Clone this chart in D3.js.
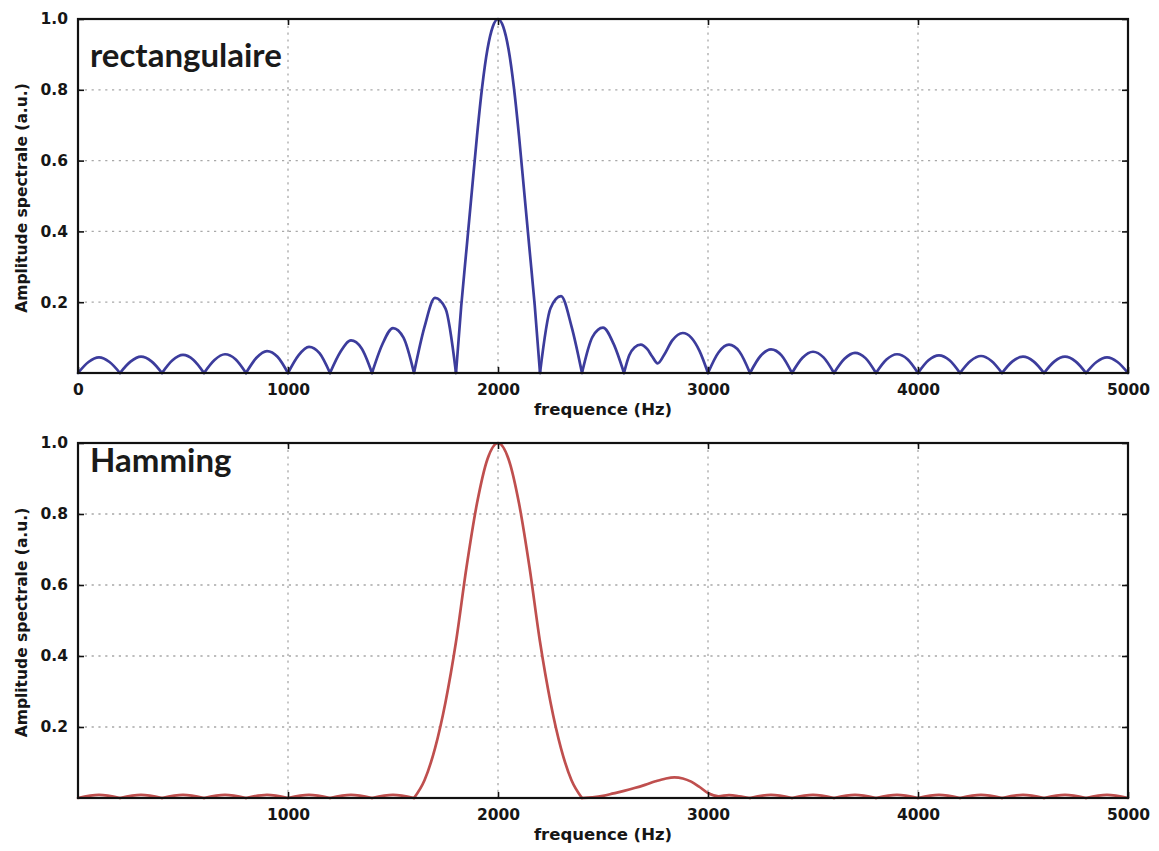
<!DOCTYPE html>
<html>
<head>
<meta charset="utf-8">
<script src="https://cdn.jsdelivr.net/npm/d3@7"></script>
<style>
  html, body { margin: 0; padding: 0; background: #fff; }
  svg { display: block; }
</style>
</head>
<body>
<svg id="chart" width="1159" height="851"></svg>
<script>
// ---- Data ---------------------------------------------------------------
const xTickValues = [0, 1000, 2000, 3000, 4000, 5000];
const yTickValues = [0.2, 0.4, 0.6, 0.8, 1.0];
const gridFreqs = [1000, 2000, 3000, 4000];
const panelTitles = ["rectangulaire", "Hamming"];
const xLabelText = "frequence (Hz)";
const yLabelText = "Amplitude spectrale (a.u.)";

// Spectrum with a rectangular window (|sinc|-like lobes)
const rectFreq = [
  0, 50, 100, 150, 200, 250, 300, 350, 400, 450, 500, 550, 600,
  650, 700, 750, 800, 850, 900, 950, 1000, 1050, 1100, 1150, 1200,
  1250, 1300, 1350, 1400, 1450, 1500, 1550, 1600, 1650, 1700, 1750, 1800,
  1825, 1850, 1875, 1900, 1925, 1950, 1975, 2000, 2025, 2050, 2075, 2100,
  2125, 2150, 2175, 2200, 2250, 2300, 2350, 2400, 2450, 2500, 2550, 2600,
  2625, 2650, 2680, 2710, 2735, 2760, 2790, 2830, 2880, 2920, 2960, 3000,
  3050, 3100, 3150, 3200, 3250, 3300, 3350, 3400, 3450, 3500, 3550, 3600,
  3650, 3700, 3750, 3800, 3850, 3900, 3950, 4000, 4050, 4100, 4150, 4200,
  4250, 4300, 4350, 4400, 4450, 4500, 4550, 4600, 4650, 4700, 4750, 4800,
  4850, 4900, 4950, 5000
];
const rectAmp = [
  0, 0.031, 0.044, 0.031, 0, 0.032, 0.046, 0.033, 0, 0.036, 0.051, 0.037, 0,
  0.037, 0.053, 0.039, 0, 0.043, 0.062, 0.046, 0, 0.050, 0.074, 0.056, 0,
  0.060, 0.092, 0.070, 0, 0.082, 0.127, 0.100, 0, 0.130, 0.212, 0.182, 0,
  0.19, 0.35, 0.51, 0.67, 0.81, 0.915, 0.978, 1.0, 0.978, 0.915, 0.81, 0.67,
  0.51, 0.35, 0.19, 0, 0.183, 0.217, 0.132, 0, 0.102, 0.128, 0.083, 0,
  0.050, 0.072, 0.080, 0.068, 0.046, 0.027, 0.050, 0.092, 0.113, 0.100, 0.062, 0,
  0.058, 0.080, 0.060, 0, 0.048, 0.067, 0.050, 0, 0.043, 0.060, 0.044, 0,
  0.040, 0.057, 0.042, 0, 0.038, 0.053, 0.039, 0, 0.036, 0.050, 0.036, 0,
  0.034, 0.048, 0.034, 0, 0.033, 0.046, 0.033, 0, 0.033, 0.046, 0.033, 0,
  0.031, 0.044, 0.031, 0
];

// Spectrum with a Hamming window
const hammFreq = [
  0, 100, 200, 300, 400, 500, 600, 700, 800, 900, 1000, 1100, 1200,
  1300, 1400, 1500, 1600, 1650, 1700, 1750, 1800, 1850, 1900, 1950, 2000,
  2050, 2100, 2150, 2200, 2250, 2300, 2350, 2400, 2450, 2500, 2550, 2600,
  2650, 2700, 2750, 2800, 2840, 2880, 2920, 2960, 3000, 3050, 3100, 3150,
  3200, 3300, 3400, 3500, 3600, 3700, 3800, 3900, 4000, 4100, 4200, 4300,
  4400, 4500, 4600, 4700, 4800, 4900, 5000
];
const hammAmp = [
  0, 0.009, 0, 0.009, 0, 0.009, 0, 0.009, 0, 0.009, 0, 0.009, 0,
  0.009, 0, 0.009, 0, 0.05, 0.14, 0.27, 0.44, 0.65, 0.83, 0.955, 1.0,
  0.955, 0.83, 0.65, 0.44, 0.27, 0.14, 0.05, 0, 0.002, 0.006, 0.013, 0.020,
  0.028, 0.037, 0.047, 0.055, 0.058, 0.055, 0.046, 0.031, 0.014, 0.005, 0.008, 0.005,
  0, 0.009, 0, 0.009, 0, 0.009, 0, 0.009, 0, 0.009, 0, 0.009,
  0, 0.009, 0, 0.009, 0, 0.009, 0
];

// ---- Layout -------------------------------------------------------------
const W = 1159, H = 851;
const plotLeft = 78, plotRight = 1128;
const panels = [
  { top: 19,  bottom: 373, freq: rectFreq, amp: rectAmp, color: "#3c3c9c",
    title: panelTitles[0], titleY: 67,  xTicks: xTickValues },
  { top: 443, bottom: 798, freq: hammFreq, amp: hammAmp, color: "#bf4f4e",
    title: panelTitles[1], titleY: 472, xTicks: xTickValues.slice(1) }
];

const svg = d3.select("#chart");
svg.append("rect").attr("width", W).attr("height", H).attr("fill", "#fff");

const tickFont = "'DejaVu Sans', sans-serif";

// Split a series into lobes at its zero crossings, so each lobe meets the
// baseline with a sharp cusp instead of a rounded bottom.
function lobes(freq, amp) {
  const pts = freq.map((f, i) => [f, amp[i]]);
  const out = [];
  let cur = [pts[0]];
  for (let i = 1; i < pts.length; i++) {
    cur.push(pts[i]);
    if (pts[i][1] === 0 && i < pts.length - 1) {
      out.push(cur);
      cur = [pts[i]];
    }
  }
  if (cur.length > 1) out.push(cur);
  return out;
}

panels.forEach(p => {
  const x = d3.scaleLinear().domain([0, 5000]).range([plotLeft, plotRight]);
  const y = d3.scaleLinear().domain([0, 1]).range([p.bottom, p.top]);
  const g = svg.append("g");

  // dotted grid
  const grid = g.append("g")
    .attr("stroke", "#a8a8a8")
    .attr("stroke-width", 1.3)
    .attr("stroke-dasharray", "2.2,4.6");
  grid.selectAll("line.v").data(gridFreqs).join("line")
    .attr("class", "v")
    .attr("x1", d => x(d)).attr("x2", d => x(d))
    .attr("y1", p.top).attr("y2", p.bottom);
  grid.selectAll("line.h").data(yTickValues.filter(v => v < 1)).join("line")
    .attr("class", "h")
    .attr("x1", plotLeft).attr("x2", plotRight)
    .attr("y1", d => y(d)).attr("y2", d => y(d));

  // spectrum curve
  const line = d3.line()
    .x(d => x(d[0]))
    .y(d => y(d[1]))
    .curve(d3.curveMonotoneX);
  g.append("g").selectAll("path").data(lobes(p.freq, p.amp)).join("path")
    .attr("d", line)
    .attr("fill", "none")
    .attr("stroke", p.color)
    .attr("stroke-width", 2.7)
    .attr("stroke-linejoin", "round")
    .attr("stroke-linecap", "round");

  // axes with inward ticks
  const styleAxis = sel => {
    sel.select(".domain").remove();
    sel.selectAll(".tick line").attr("stroke", "#111").attr("stroke-width", 1.6);
    sel.selectAll(".tick text")
      .attr("fill", "#161616")
      .attr("font-family", tickFont)
      .attr("font-weight", "bold")
      .attr("font-size", 15.5);
  };
  g.append("g").attr("transform", `translate(0,${p.bottom})`)
    .call(d3.axisBottom(x).tickValues(p.xTicks).tickSize(-6).tickPadding(11)
      .tickFormat(d3.format("d")))
    .call(styleAxis);
  g.append("g").attr("transform", `translate(0,${p.top})`)
    .call(d3.axisTop(x).tickValues(gridFreqs).tickSize(-6).tickFormat(""))
    .call(styleAxis);
  g.append("g").attr("transform", `translate(${plotLeft},0)`)
    .call(d3.axisLeft(y).tickValues(yTickValues).tickSize(-6).tickPadding(10)
      .tickFormat(d3.format(".1f")))
    .call(styleAxis);
  g.append("g").attr("transform", `translate(${plotRight},0)`)
    .call(d3.axisRight(y).tickValues(yTickValues).tickSize(-6).tickFormat(""))
    .call(styleAxis);

  // frame
  g.append("rect")
    .attr("x", plotLeft).attr("y", p.top)
    .attr("width", plotRight - plotLeft).attr("height", p.bottom - p.top)
    .attr("fill", "none").attr("stroke", "#111").attr("stroke-width", 2.2);

  // axis labels
  g.append("text")
    .attr("x", (plotLeft + plotRight) / 2)
    .attr("y", p.bottom + 42)
    .attr("text-anchor", "middle")
    .attr("font-family", tickFont).attr("font-weight", "bold")
    .attr("font-size", 16.5).attr("fill", "#161616")
    .text(xLabelText);
  g.append("text")
    .attr("transform", `translate(27,${(p.top + p.bottom) / 2 + 2}) rotate(-90)`)
    .attr("text-anchor", "middle")
    .attr("font-family", tickFont).attr("font-weight", "bold")
    .attr("font-size", 15.5).attr("fill", "#161616")
    .text(yLabelText);

  // panel title
  g.append("text")
    .attr("x", 90).attr("y", p.titleY)
    .attr("font-family", "Lato, 'Open Sans', sans-serif")
    .attr("font-weight", "bold")
    .attr("font-size", 33).attr("fill", "#1a1a1a")
    .text(p.title);
});
</script>
</body>
</html>
